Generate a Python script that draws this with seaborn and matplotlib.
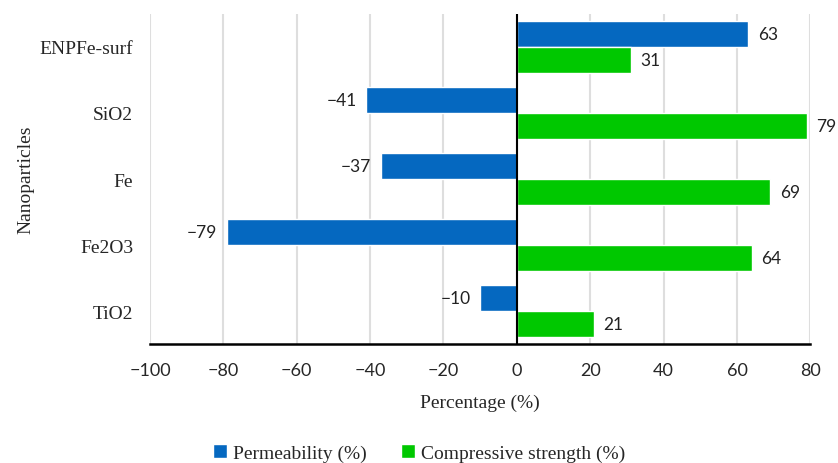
import matplotlib
matplotlib.use('Agg')
import matplotlib.pyplot as plt
import pandas as pd
import seaborn as sns

# 数据
categories = ['ENPFe-surf', 'SiO2', 'Fe', 'Fe2O3', 'TiO2']
permeability = [63, -41, -37, -79, -10]
compressive = [31, 79, 69, 64, 21]
series_names = ['Permeability (%)', 'Compressive strength (%)']
x_ticks = [-100, -80, -60, -40, -20, 0, 20, 40, 60, 80]

df = pd.DataFrame({
    'Nanoparticles': categories * 2,
    'value': permeability + compressive,
    'series': [series_names[0]] * len(categories) + [series_names[1]] * len(categories),
})

sns.set_theme(style='white')
serif = ['Liberation Serif', 'DejaVu Serif']
sans = ['Lato', 'DejaVu Sans']

fig = plt.figure(figsize=(8.38, 4.64), dpi=100)
ax = fig.add_axes([0.179, 0.256, 0.788, 0.712])

sns.barplot(data=df, x='value', y='Nanoparticles', hue='series', order=categories,
            hue_order=series_names, palette=['#0568C0', '#00C800'], orient='h',
            width=0.78, saturation=1, ax=ax, legend=True)

for cont in ax.containers:
    labels = [f'{v:.0f}'.replace('-', '\u2212') for v in cont.datavalues]
    ax.bar_label(cont, labels=labels, padding=7, fontsize=12.5, family=sans, color='#222222')

ax.set_xlim(-100, 80)
ax.set_xticks(x_ticks)
ax.set_xticklabels([str(t).replace('-', '\u2212') for t in x_ticks], family=sans, fontsize=13)
ax.set_yticks(range(len(categories)))
ax.set_yticklabels(categories, family=serif, fontsize=14)
ax.tick_params(axis='x', length=0, pad=13)
ax.tick_params(axis='y', length=0, pad=12)
ax.set_xlabel('Percentage (%)', family=serif, fontsize=14, labelpad=11)
ax.set_ylabel('Nanoparticles', family=serif, fontsize=14, labelpad=4)

ax.grid(axis='x', color='#DEDEDE', linewidth=1.5)
ax.set_axisbelow(True)
ax.axvline(0, color='black', linewidth=1.5, zorder=3)
for s in ['top', 'right', 'left']:
    ax.spines[s].set_visible(False)
ax.spines['bottom'].set_color('black')
ax.spines['bottom'].set_linewidth(1.8)

handles, labels = ax.get_legend_handles_labels()
ax.get_legend().remove()
fig.legend(handles, labels, loc='center', bbox_to_anchor=(0.5, 0.022), ncol=2, frameon=False,
           handlelength=0.7, handleheight=0.7, handletextpad=0.3, columnspacing=1.8,
           prop={'family': serif, 'size': 14})

fig.savefig('out.png', dpi=100)
